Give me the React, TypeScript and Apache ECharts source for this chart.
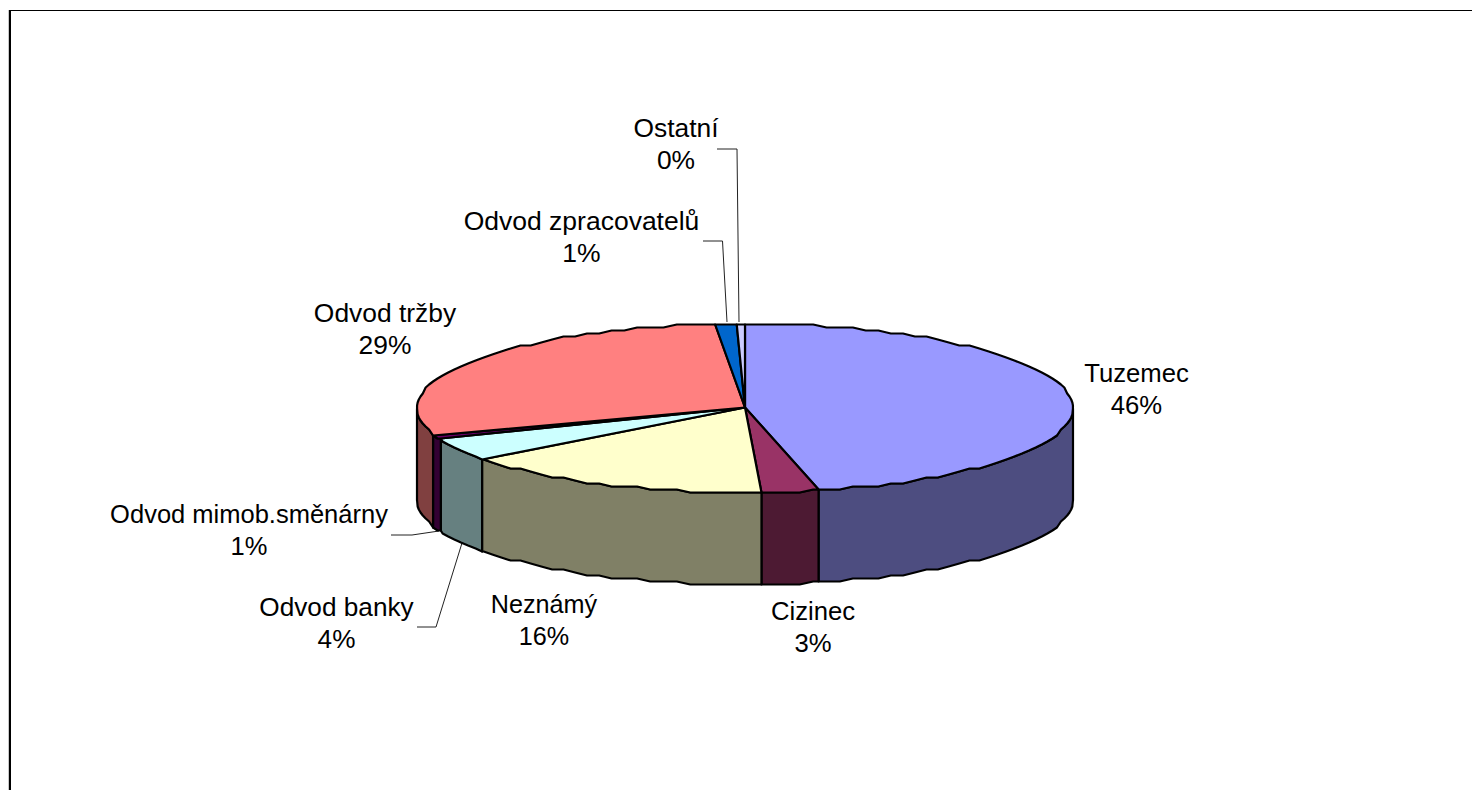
import React, { useEffect, useRef } from "react";
import * as echarts from "echarts";

const categories = ["Tuzemec", "Cizinec", "Neznámý", "Odvod banky", "Odvod mimob.směnárny", "Odvod tržby", "Odvod zpracovatelů", "Ostatní"];
const shares = [46.4, 2.8, 15.6, 4.1, 1.1, 28.55, 1.05, 0.4];
const topColors = ["#9999FF", "#993366", "#FFFFCC", "#CCFFFF", "#660066", "#FF8080", "#0066CC", "#CCCCFF"];
const wallColors = ["#4D4D80", "#4D1A33", "#808066", "#668080", "#330033", "#804040", "#003366", "#666680"];

// label layout in category order: centre x, centre y of the two lines, font size
const labelLayout = [
  [1136.5, 389, 25.7], [813, 627, 25.7], [544, 620, 25.2], [336.5, 623, 26.2], [249, 530, 25.5], [385, 329, 26.4], [581.5, 237, 26.5], [676, 144, 26.4],
];
const leaderLines = [
  [[717, 149], [737, 149], [739, 322]],
  [[703, 241], [722.5, 241], [727, 322]],
  [[417, 627], [436, 627], [462, 543]],
  [[391, 535], [412, 535], [439, 531]],
];

const CX = 745, CY = 407.5, RX = 328, RY = 84.5, DEPTH = 92;
const STEP = 1 / 150; // rim is a coarse polyline, as in the reference
const SNAP = 3; // vertical snap of the rim, gives it the reference's stepped look
const FONT = '"Liberation Sans", Arial, sans-serif';

const total = shares.reduce((a, b) => a + b, 0);
let running = 0;
const sliceData = shares.map((v, i) => {
  const start = running;
  running += v;
  return { name: categories[i], value: [start / total, running / total, v] };
});

function rim(t: number, dy = 0): number[] {
  const a = t * Math.PI * 2;
  const y = CY - RY * Math.cos(a);
  return [CX + RX * Math.sin(a), Math.round(y / SNAP) * SNAP + 0.5 + dy];
}
// rim points between two fractions: both ends plus the shared grid of steps
function arc(t0: number, t1: number, dy = 0): number[][] {
  const lo = Math.min(t0, t1), hi = Math.max(t0, t1);
  const ts = [lo];
  for (let k = Math.floor(lo / STEP) + 1; k * STEP < hi; k++) ts.push(k * STEP);
  ts.push(hi);
  if (t0 > t1) ts.reverse();
  return ts.map((t) => rim(t, dy));
}
const edge = { stroke: "#000", lineWidth: 2.2, lineJoin: "round" };

const renderWall = (params: any, api: any) => {
  const t0 = Math.max(api.value(0), 0.25);
  const t1 = Math.min(api.value(1), 0.75);
  if (t1 <= t0) return { type: "group", children: [] };
  const points = [...arc(t0, t1), ...arc(t1, t0, DEPTH)];
  return { type: "polygon", shape: { points }, style: { fill: wallColors[params.dataIndex], ...edge } };
};
const renderTop = (params: any, api: any) => {
  const points = [[CX, CY], ...arc(api.value(0), api.value(1))];
  return { type: "polygon", shape: { points }, style: { fill: topColors[params.dataIndex], ...edge } };
};
const renderLabel = (params: any, api: any) => {
  const [x, y, size] = labelLayout[params.dataIndex];
  return {
    type: "text",
    x,
    y,
    style: {
      text: `${categories[params.dataIndex]}\n${Math.round(api.value(2))}%`,
      font: `${size}px ${FONT}`,
      lineHeight: 32,
      fill: "#000",
      align: "center",
      verticalAlign: "middle",
    },
  };
};

export default function App() {
  const ref = useRef<HTMLDivElement>(null);
  useEffect(() => {
    const chart = echarts.init(ref.current!, undefined, { renderer: "svg" });
    const custom = (id: string, renderItem: any, z: number) => ({
      type: "custom",
      id,
      coordinateSystem: "none",
      renderItem,
      data: sliceData,
      silent: true,
      z,
    });
    chart.setOption({
      animation: false,
      backgroundColor: "#fff",
      graphic: [
        { type: "line", shape: { x1: 8.5, y1: 10, x2: 8.5, y2: 790 }, style: { stroke: "#c8c8c8", lineWidth: 1 } },
        { type: "line", shape: { x1: 10, y1: 10, x2: 10, y2: 790 }, style: { stroke: "#000", lineWidth: 2 } },
        { type: "line", shape: { x1: 9, y1: 10.5, x2: 1472, y2: 10.5 }, style: { stroke: "#000", lineWidth: 1 } },
        ...leaderLines.map((pts) => ({
          type: "polyline",
          shape: { points: pts },
          style: { stroke: "#222", lineWidth: 1, fill: "none" },
        })),
      ],
      series: [custom("walls", renderWall, 2), custom("tops", renderTop, 3), custom("labels", renderLabel, 4)],
    });
    return () => chart.dispose();
  }, []);
  return <div ref={ref} style={{ position: "fixed", left: 0, top: 0, width: 1472, height: 790 }} />;
}
